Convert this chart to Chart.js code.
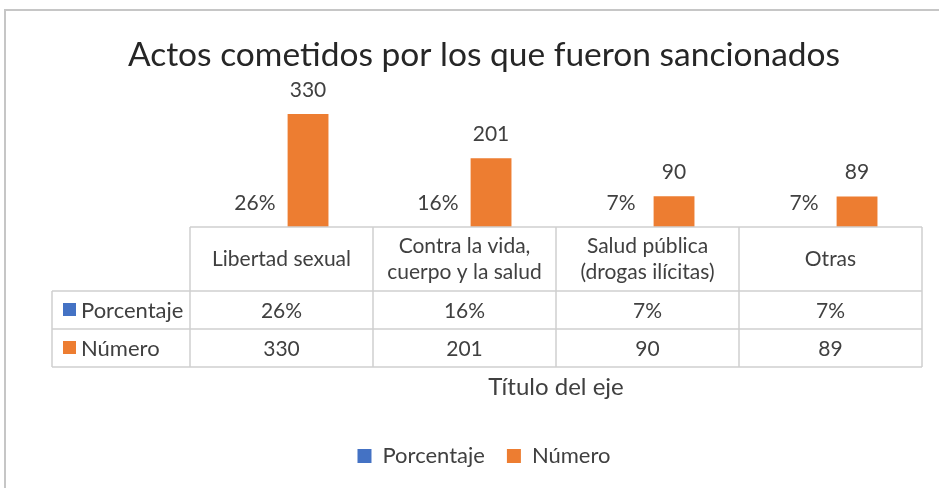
<!DOCTYPE html>
<html>
<head>
<meta charset="utf-8">
<script src="https://cdn.jsdelivr.net/npm/chart.js@4"></script>
<style>
  body { margin: 0; background: #fff; overflow: hidden; }
  #wrap { position: relative; width: 939px; height: 488px; }
  #frame { position: absolute; left: 4px; top: 9px; width: 1000px; height: 600px; border: 2px solid #c6c6c6; box-sizing: border-box; pointer-events: none; }
  canvas { position: absolute; left: 0; top: 0; }
</style>
</head>
<body>
<div id="wrap">
  <canvas id="chart" width="939" height="488"></canvas>
  <div id="frame"></div>
</div>
<script>
// datos
const categories = [
  ['Libertad sexual'],
  ['Contra la vida,', 'cuerpo y la salud'],
  ['Salud pública', '(drogas ilícitas)'],
  ['Otras']
];
const porcentaje = [0.26, 0.16, 0.07, 0.07];
const numero = [330, 201, 90, 89];
const seriesNames = ['Porcentaje', 'Número'];
const colors = ['#4472C4', '#ED7D31'];

const FONT = 'Lato, "Open Sans", sans-serif';
const TEXT = '#404040';

function fmt(di, v) {
  return di === 0 ? Math.round(v * 100) + '%' : String(v);
}

// etiquetas encima de las barras
const barLabels = {
  id: 'barLabels',
  afterDatasetsDraw(chart) {
    const ctx = chart.ctx;
    ctx.save();
    ctx.font = '21px ' + FONT;
    ctx.fillStyle = TEXT;
    ctx.textAlign = 'center';
    ctx.textBaseline = 'middle';
    chart.data.datasets.forEach((ds, di) => {
      chart.getDatasetMeta(di).data.forEach((bar, i) => {
        ctx.fillText(fmt(di, ds.data[i]), bar.x, bar.y - 24);
      });
    });
    ctx.restore();
  }
};

// tabla de datos debajo del eje
const dataTable = {
  id: 'dataTable',
  afterDraw(chart) {
    const ctx = chart.ctx;
    const area = chart.chartArea;
    const x = chart.scales.x;
    const n = categories.length;
    const colW = (area.right - area.left) / n;
    const headTop = area.bottom;
    const headH = 64;
    const rowH = 38;
    const tableLeft = 52;
    const rowsTop = headTop + headH;
    const bottom = rowsTop + rowH * chart.data.datasets.length;

    ctx.save();
    ctx.strokeStyle = '#d0d0d0';
    ctx.lineWidth = 1.5;
    ctx.beginPath();
    // horizontales
    ctx.moveTo(area.left, headTop); ctx.lineTo(area.right, headTop);
    for (let r = 0; r <= chart.data.datasets.length; r++) {
      const yy = rowsTop + r * rowH;
      ctx.moveTo(tableLeft, yy); ctx.lineTo(area.right, yy);
    }
    // verticales
    ctx.moveTo(tableLeft, rowsTop); ctx.lineTo(tableLeft, bottom);
    for (let c = 0; c <= n; c++) {
      const xx = area.left + c * colW;
      ctx.moveTo(xx, headTop); ctx.lineTo(xx, bottom);
    }
    ctx.stroke();

    ctx.fillStyle = TEXT;
    ctx.font = '21px ' + FONT;
    ctx.textAlign = 'center';
    ctx.textBaseline = 'middle';
    categories.forEach((lines, i) => {
      const cx = x.getPixelForValue(i);
      const cy = headTop + headH / 2;
      const lh = 26;
      lines.forEach((t, k) => {
        ctx.fillText(t, cx, cy + (k - (lines.length - 1) / 2) * lh);
      });
    });

    chart.data.datasets.forEach((ds, di) => {
      const cy = rowsTop + di * rowH + rowH / 2;
      ctx.fillStyle = colors[di];
      ctx.fillRect(63, cy - 7, 13, 13);
      ctx.fillStyle = TEXT;
      ctx.textAlign = 'left';
      ctx.font = '22px ' + FONT;
      ctx.fillText(ds.label, 81, cy + 1);
      ctx.font = '21px ' + FONT;
      ctx.textAlign = 'center';
      ds.data.forEach((v, i) => {
        ctx.fillText(fmt(di, v), x.getPixelForValue(i), cy + 1);
      });
    });
    ctx.restore();
  }
};

new Chart(document.getElementById('chart'), {
  type: 'bar',
  data: {
    labels: categories.map(c => c.join(' ')),
    datasets: [
      { label: seriesNames[0], data: porcentaje, backgroundColor: colors[0] },
      { label: seriesNames[1], data: numero, backgroundColor: colors[1] }
    ]
  },
  options: {
    responsive: false,
    animation: false,
    layout: { padding: { top: 0, right: 17, bottom: 11, left: 46 } },
    datasets: { bar: { categoryPercentage: 0.58, barPercentage: 0.77 } },
    plugins: {
      title: {
        display: true,
        text: 'Actos cometidos por los que fueron sancionados',
        color: '#262626',
        font: { family: FONT, size: 33.5, weight: 'normal' },
        padding: { top: 35, bottom: 32 }
      },
      legend: {
        position: 'bottom',
        labels: {
          color: TEXT,
          font: { family: FONT, size: 22 },
          boxWidth: 14,
          boxHeight: 14,
          padding: 22
        }
      },
      tooltip: { enabled: false }
    },
    scales: {
      x: {
        grid: { display: false },
        border: { display: false },
        ticks: { display: false },
        title: {
          display: true,
          text: 'Título del eje',
          color: TEXT,
          font: { family: FONT, size: 24 },
          padding: { top: 0, bottom: 21 }
        },
        afterFit(s) { s.height = 196; }
      },
      y: {
        min: 0,
        max: 350,
        grid: { display: false },
        border: { display: false },
        ticks: { display: false },
        afterFit(s) { s.width = 144; }
      }
    }
  },
  plugins: [barLabels, dataTable]
});
</script>
</body>
</html>
